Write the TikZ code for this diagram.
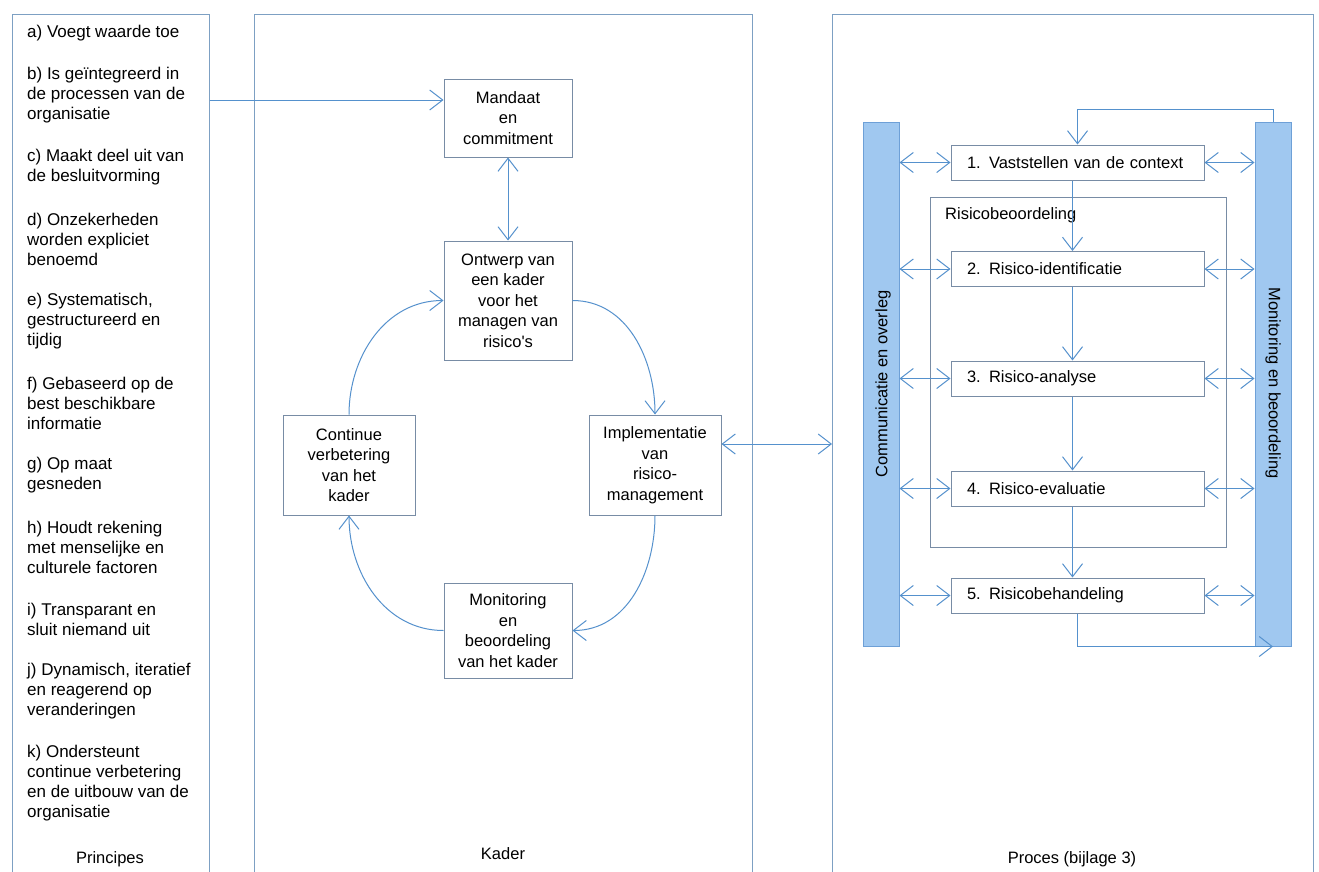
\documentclass[tikz,border=0pt]{standalone}
\usepackage{fontspec}
\newfontfamily\diagfont{Liberation Sans}
\usetikzlibrary{arrows.meta}
\definecolor{panelc}{RGB}{125,160,195}
\definecolor{boxc}{RGB}{120,140,165}
\definecolor{arrc}{RGB}{85,145,205}
\definecolor{barfill}{RGB}{160,200,240}
\definecolor{barline}{RGB}{110,160,215}

\begin{document}
\begin{tikzpicture}[x=1pt,y=1pt,
  >={Straight Barb[length=13pt,width=20pt]},
  every node/.style={font=\diagfont\fontsize{16.5pt}{20pt}\selectfont, text=black},
  panel/.style={draw=panelc, line width=1pt},
  kbox/.style={draw=boxc, line width=1pt, fill=white, align=center, inner sep=0pt,
    minimum width=128pt, font=\diagfont\fontsize{16.5pt}{20.5pt}\selectfont},
  pbox/.style={draw=boxc, line width=1pt, fill=white, align=left, inner xsep=16pt,
    inner ysep=0pt, text width=221pt, minimum height=35pt},
  item/.style={anchor=west, align=left, inner sep=0pt,
    font=\diagfont\fontsize{17pt}{20pt}\selectfont},
  bar/.style={draw=barline, fill=barfill, line width=1pt, minimum width=36pt,
    minimum height=524pt, inner sep=0pt},
  arr/.style={draw=arrc, line width=1pt, ->},
  darr/.style={draw=arrc, line width=1pt, <->},
]
\fill[white] (0,0) rectangle (1319,-871);
\useasboundingbox (0,0) rectangle (1319,-871);

% three open-bottomed panels
\draw[panel] (12.5,-875) -- (12.5,-14) -- (209.5,-14) -- (209.5,-875);
\draw[panel] (254,-875) -- (254,-14) -- (752,-14) -- (752,-875);
\draw[panel] (832,-875) -- (832,-14) -- (1313,-14) -- (1313,-875);

% panel captions
\node (lblP) at (110,-859) {Principes};
\node (lblK) at (503,-854) {Kader};
\node (lblR) at (1072,-859) {Proces (bijlage 3)};

% principles
\node[item] (pa) at (27,-33) {a) Voegt waarde toe};
\node[item] (pb) at (27,-95) {b) Is geïntegreerd in\\de processen van de\\organisatie};
\node[item] (pc) at (27,-167) {c) Maakt deel uit van\\de besluitvorming};
\node[item] (pd) at (27,-239) {d) Onzekerheden\\worden expliciet\\benoemd};
\node[item] (pe) at (27,-321) {e) Systematisch,\\gestructureerd en\\tijdig};
\node[item] (pf) at (27,-403) {f) Gebaseerd op de\\best beschikbare\\informatie};
\node[item] (pg) at (27,-475) {g) Op maat\\gesneden};
\node[item] (ph) at (27,-547) {h) Houdt rekening\\met menselijke en\\culturele factoren};
\node[item] (pi) at (27,-619) {i) Transparant en\\sluit niemand uit};
\node[item] (pj) at (27,-691) {j) Dynamisch, iteratief\\en reagerend op\\veranderingen};
\node[item] (pk) at (27,-783) {k) Ondersteunt\\continue verbetering\\en de uitbouw van de\\organisatie};

% framework cycle
\node[kbox, minimum height=78pt] (mandaat) at (508,-118) {Mandaat\\en\\commitment};
\node[kbox, minimum height=119pt] (ontwerp) at (508,-300.5) {Ontwerp van\\een kader\\voor het\\managen van\\risico's};
\node[kbox, minimum height=100pt, minimum width=132pt] (contin) at (349,-465) {Continue\\verbetering\\van het\\kader};
\node[kbox, minimum height=100pt, minimum width=132pt] (impl) at (655,-465) {Implementatie\\van\\risico-\\management};
\node[kbox, minimum height=95pt] (monit) at (508,-630.5) {Monitoring\\en\\beoordeling\\van het kader};

\coordinate (princR) at (209.5,-100);
\draw[arr] (princR) -- (princR -| mandaat.west);
\draw[darr] (mandaat.south) -- (ontwerp.north);
\draw[arr] (contin.north) to[out=90,in=180] (ontwerp.west);
\draw[arr] (ontwerp.east) to[out=0,in=90] (impl.north);
\draw[arr] (impl.south) to[out=-90,in=0] (monit.east);
\draw[arr] (monit.west) to[out=180,in=-90] (contin.south);
\coordinate (procL) at (832,-444);
\draw[darr] (impl.east |- procL) -- (procL);

% process
\node[bar] (comm) at (881,-384) {};
\node[rotate=90, inner sep=0pt] (commtxt) at (883,-384) {Communicatie en overleg};
\node[bar] (monb) at (1273,-384) {};
\node[rotate=-90, inner sep=0pt] (monbtxt) at (1273,-383) {Monitoring en beoordeling};
\node[draw=boxc, line width=1pt, minimum width=296pt, minimum height=350pt, inner sep=0pt] (rb) at (1078,-372) {};
\node[anchor=west, inner sep=0pt] (rbtxt) at (945,-215) {Risicobeoordeling};

\node[pbox] (b1) at (1077.5,-162.5) {1. Vaststellen van de context};
\node[pbox] (b2) at (1077.5,-269) {2. Risico-identificatie};
\node[pbox] (b3) at (1077.5,-378.5) {3. Risico-analyse};
\node[pbox] (b4) at (1077.5,-488.5) {4. Risico-evaluatie};
\node[pbox] (b5) at (1077.5,-595.5) {5. Risicobehandeling};

\draw[arr] ([xshift=-5pt]b1.south) -- ([xshift=-5pt]b2.north);
\draw[arr] ([xshift=-5pt]b2.south) -- ([xshift=-5pt]b3.north);
\draw[arr] ([xshift=-5pt]b3.south) -- ([xshift=-5pt]b4.north);
\draw[arr] ([xshift=-5pt]b4.south) -- ([xshift=-5pt]b5.north);
\draw[arr] (monb.north) -- ++(0,12) -| (b1.north);
\draw[arr] (b5.south) |- (monb.south);

\foreach \b in {b1,b2,b3,b4,b5} {
  \draw[darr] (comm.east |- \b.west) -- (\b.west);
  \draw[darr] (\b.east) -- (monb.west |- \b.east);
}
\end{tikzpicture}
\end{document}
